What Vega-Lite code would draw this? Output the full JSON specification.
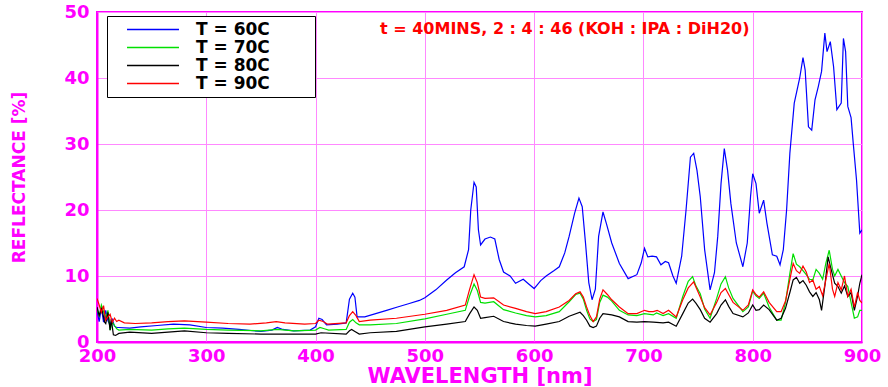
{
"$schema": "https://vega.github.io/schema/vega-lite/v6.json",
"width": 765, "height": 330,
"autosize": {"type": "none"},
"padding": {"left": 97, "top": 12, "right": 26, "bottom": 45},
"background": "white",
"config": {"view": {"stroke": "#ff00ff", "strokeWidth": 2}, "font": "DejaVu Sans"},
"datasets": {
"s60": [{"w":200,"r":4.8},{"w":202,"r":3.1},{"w":204,"r":5.2},{"w":206,"r":3.0},{"w":208,"r":4.8},{"w":210,"r":3.2},{"w":212,"r":2.6},{"w":214,"r":3.4},{"w":216,"r":2.4},{"w":218,"r":2.2},{"w":220,"r":2.2},{"w":230,"r":2.1},{"w":240,"r":2.3},{"w":255,"r":2.5},{"w":270,"r":2.7},{"w":285,"r":2.6},{"w":300,"r":2.2},{"w":315,"r":2.1},{"w":330,"r":1.9},{"w":350,"r":1.6},{"w":360,"r":1.8},{"w":365,"r":2.2},{"w":370,"r":1.9},{"w":380,"r":1.7},{"w":395,"r":1.8},{"w":400,"r":2.3},{"w":403,"r":3.6},{"w":406,"r":3.4},{"w":410,"r":2.6},{"w":420,"r":2.7},{"w":428,"r":2.9},{"w":431,"r":6.5},{"w":434,"r":7.4},{"w":436,"r":6.8},{"w":438,"r":3.8},{"w":445,"r":3.8},{"w":455,"r":4.3},{"w":465,"r":4.8},{"w":475,"r":5.3},{"w":485,"r":5.8},{"w":495,"r":6.3},{"w":500,"r":6.7},{"w":510,"r":7.9},{"w":520,"r":9.4},{"w":528,"r":10.5},{"w":536,"r":11.4},{"w":540,"r":14},{"w":542,"r":20},{"w":545,"r":24.2},{"w":547,"r":23.5},{"w":549,"r":17},{"w":551,"r":14.7},{"w":555,"r":15.6},{"w":560,"r":15.9},{"w":564,"r":15.6},{"w":568,"r":12.5},{"w":572,"r":10.6},{"w":578,"r":10.0},{"w":583,"r":8.9},{"w":590,"r":9.5},{"w":595,"r":8.8},{"w":600,"r":8.1},{"w":606,"r":9.3},{"w":611,"r":10},{"w":618,"r":10.8},{"w":623,"r":11.4},{"w":628,"r":13.5},{"w":632,"r":16},{"w":637,"r":19.5},{"w":641,"r":21.8},{"w":644,"r":20.5},{"w":647,"r":15},{"w":650,"r":9},{"w":653,"r":6.4},{"w":656,"r":8},{"w":659,"r":16},{"w":663,"r":19.7},{"w":666,"r":18},{"w":671,"r":15},{"w":678,"r":11.9},{"w":686,"r":9.6},{"w":694,"r":10.2},{"w":698,"r":12},{"w":701,"r":14.2},{"w":704,"r":12.9},{"w":708,"r":13},{"w":712,"r":12.9},{"w":716,"r":11.7},{"w":720,"r":12.2},{"w":723,"r":12},{"w":727,"r":10},{"w":730,"r":8.9},{"w":735,"r":13},{"w":739,"r":20},{"w":743,"r":28},{"w":746,"r":28.6},{"w":749,"r":26},{"w":752,"r":22},{"w":756,"r":14},{"w":761,"r":7.9},{"w":765,"r":10.5},{"w":768,"r":16},{"w":771,"r":24},{"w":774,"r":29.3},{"w":777,"r":26},{"w":780,"r":21},{"w":785,"r":15},{"w":791,"r":11.4},{"w":795,"r":15},{"w":798,"r":22},{"w":800,"r":25.5},{"w":803,"r":24},{"w":806,"r":19.5},{"w":810,"r":21.5},{"w":813,"r":18},{"w":818,"r":13.2},{"w":822,"r":13},{"w":825,"r":11.7},{"w":828,"r":14},{"w":831,"r":20},{"w":834,"r":28.6},{"w":838,"r":36.2},{"w":843,"r":40},{"w":846,"r":43.1},{"w":848,"r":41.2},{"w":851,"r":32.6},{"w":854,"r":32.1},{"w":857,"r":36.7},{"w":860,"r":38.7},{"w":863,"r":41},{"w":866,"r":46.8},{"w":868,"r":44},{"w":871,"r":45.5},{"w":874,"r":41.7},{"w":877,"r":35.2},{"w":881,"r":36.2},{"w":883,"r":46},{"w":885,"r":44},{"w":887,"r":35.7},{"w":890,"r":34},{"w":892,"r":30.1},{"w":895,"r":24.5},{"w":898,"r":16.5},{"w":900,"r":17}],
"s70": [{"w":200,"r":5.0},{"w":202,"r":4.0},{"w":204,"r":5.6},{"w":206,"r":4.6},{"w":208,"r":3.6},{"w":210,"r":4.8},{"w":212,"r":1.8},{"w":214,"r":3.0},{"w":216,"r":2.5},{"w":218,"r":2.0},{"w":220,"r":1.8},{"w":230,"r":1.9},{"w":250,"r":1.8},{"w":265,"r":2.0},{"w":280,"r":2.1},{"w":300,"r":1.9},{"w":320,"r":1.8},{"w":350,"r":1.7},{"w":365,"r":1.9},{"w":380,"r":1.7},{"w":400,"r":1.8},{"w":404,"r":2.2},{"w":408,"r":2.0},{"w":412,"r":1.8},{"w":428,"r":1.9},{"w":431,"r":3.0},{"w":434,"r":3.4},{"w":437,"r":2.9},{"w":440,"r":2.6},{"w":450,"r":2.6},{"w":474,"r":2.8},{"w":500,"r":3.5},{"w":520,"r":4.2},{"w":537,"r":4.8},{"w":541,"r":7},{"w":545,"r":8.8},{"w":548,"r":7.8},{"w":551,"r":6},{"w":555,"r":5.9},{"w":563,"r":6.1},{"w":572,"r":4.9},{"w":583,"r":4.4},{"w":593,"r":4.0},{"w":601,"r":3.8},{"w":611,"r":4.0},{"w":623,"r":4.6},{"w":632,"r":6.1},{"w":638,"r":7.2},{"w":642,"r":7.4},{"w":645,"r":6.5},{"w":648,"r":4.8},{"w":651,"r":3.5},{"w":654,"r":3.1},{"w":657,"r":3.4},{"w":660,"r":6},{"w":663,"r":7.1},{"w":667,"r":6.8},{"w":671,"r":6.2},{"w":678,"r":4.8},{"w":686,"r":4.1},{"w":694,"r":4.0},{"w":701,"r":4.3},{"w":709,"r":4.1},{"w":712,"r":4.4},{"w":718,"r":4.0},{"w":723,"r":4.3},{"w":730,"r":3.6},{"w":736,"r":6.9},{"w":741,"r":9.2},{"w":745,"r":9.9},{"w":748,"r":8.5},{"w":752,"r":7.3},{"w":756,"r":5},{"w":761,"r":3.6},{"w":767,"r":6.6},{"w":771,"r":8.8},{"w":775,"r":9.9},{"w":778,"r":8.2},{"w":782,"r":6.6},{"w":791,"r":4.6},{"w":796,"r":5.3},{"w":800,"r":7.7},{"w":803,"r":7.0},{"w":806,"r":6.6},{"w":810,"r":7.4},{"w":815,"r":5.3},{"w":822,"r":3.3},{"w":826,"r":3.3},{"w":830,"r":6.0},{"w":834,"r":10.4},{"w":837,"r":13.4},{"w":840,"r":11.8},{"w":843,"r":11.4},{"w":846,"r":10.8},{"w":849,"r":10.2},{"w":852,"r":9.5},{"w":855,"r":9.4},{"w":858,"r":11.0},{"w":861,"r":10.4},{"w":864,"r":9.5},{"w":867,"r":12.0},{"w":870,"r":13.9},{"w":873,"r":11.0},{"w":875,"r":10.0},{"w":878,"r":11.0},{"w":881,"r":10.0},{"w":884,"r":9.0},{"w":887,"r":8.4},{"w":890,"r":6.0},{"w":893,"r":3.6},{"w":896,"r":3.8},{"w":898,"r":4.8},{"w":900,"r":4.8}],
"s80": [{"w":200,"r":5.3},{"w":202,"r":4.0},{"w":204,"r":5.0},{"w":205,"r":4.6},{"w":207,"r":3.0},{"w":208,"r":2.8},{"w":210,"r":4.5},{"w":212,"r":1.8},{"w":213,"r":3.5},{"w":215,"r":1.1},{"w":217,"r":1.0},{"w":220,"r":1.3},{"w":230,"r":1.5},{"w":250,"r":1.3},{"w":265,"r":1.5},{"w":280,"r":1.7},{"w":300,"r":1.4},{"w":320,"r":1.3},{"w":350,"r":1.2},{"w":380,"r":1.2},{"w":400,"r":1.2},{"w":405,"r":1.4},{"w":428,"r":1.2},{"w":431,"r":1.7},{"w":433,"r":1.9},{"w":436,"r":1.6},{"w":440,"r":1.2},{"w":450,"r":1.4},{"w":474,"r":1.6},{"w":500,"r":2.3},{"w":520,"r":2.7},{"w":537,"r":3.1},{"w":541,"r":4.3},{"w":545,"r":5.3},{"w":548,"r":4.8},{"w":551,"r":3.6},{"w":555,"r":3.7},{"w":563,"r":3.9},{"w":572,"r":3.1},{"w":583,"r":2.7},{"w":593,"r":2.5},{"w":601,"r":2.4},{"w":611,"r":2.7},{"w":623,"r":3.1},{"w":632,"r":3.9},{"w":642,"r":4.5},{"w":645,"r":4},{"w":648,"r":3.3},{"w":651,"r":2.4},{"w":654,"r":2.2},{"w":657,"r":2.4},{"w":660,"r":3.6},{"w":663,"r":4.3},{"w":671,"r":4.1},{"w":678,"r":3.8},{"w":686,"r":3.1},{"w":694,"r":3.0},{"w":701,"r":3.1},{"w":709,"r":3.0},{"w":718,"r":2.9},{"w":723,"r":3.0},{"w":730,"r":2.4},{"w":736,"r":4.3},{"w":741,"r":5.9},{"w":745,"r":6.5},{"w":748,"r":5.9},{"w":752,"r":4.9},{"w":756,"r":3.6},{"w":761,"r":3.0},{"w":767,"r":4.3},{"w":771,"r":5.6},{"w":775,"r":6.4},{"w":778,"r":5.4},{"w":782,"r":4.3},{"w":791,"r":3.8},{"w":796,"r":4.4},{"w":800,"r":5.6},{"w":803,"r":4.8},{"w":806,"r":4.9},{"w":810,"r":5.6},{"w":815,"r":4.9},{"w":822,"r":3.3},{"w":826,"r":3.6},{"w":830,"r":5.1},{"w":834,"r":7.5},{"w":837,"r":9.4},{"w":840,"r":9.8},{"w":843,"r":8.9},{"w":846,"r":9.3},{"w":849,"r":8.6},{"w":852,"r":7.6},{"w":855,"r":6.9},{"w":858,"r":7.5},{"w":861,"r":6.4},{"w":863,"r":4.8},{"w":866,"r":8.5},{"w":869,"r":12.9},{"w":871,"r":11.5},{"w":873,"r":10.2},{"w":875,"r":8.9},{"w":878,"r":8.4},{"w":881,"r":7.4},{"w":884,"r":8.5},{"w":887,"r":6.9},{"w":890,"r":7.5},{"w":893,"r":4.8},{"w":896,"r":7.0},{"w":898,"r":8.9},{"w":900,"r":10.2}],
"s90": [{"w":200,"r":6.6},{"w":202,"r":5.6},{"w":204,"r":4.5},{"w":206,"r":5.5},{"w":208,"r":3.3},{"w":210,"r":3.8},{"w":212,"r":4.2},{"w":214,"r":3.0},{"w":216,"r":3.6},{"w":218,"r":3.1},{"w":220,"r":3.3},{"w":225,"r":2.9},{"w":235,"r":2.8},{"w":250,"r":2.9},{"w":265,"r":3.1},{"w":280,"r":3.2},{"w":300,"r":3.0},{"w":320,"r":2.8},{"w":340,"r":2.7},{"w":355,"r":2.9},{"w":364,"r":3.1},{"w":372,"r":2.9},{"w":390,"r":2.7},{"w":400,"r":2.8},{"w":403,"r":3.3},{"w":407,"r":3.1},{"w":411,"r":2.7},{"w":428,"r":2.9},{"w":431,"r":4.0},{"w":434,"r":4.6},{"w":437,"r":4.0},{"w":440,"r":3.1},{"w":450,"r":3.3},{"w":474,"r":3.6},{"w":500,"r":4.2},{"w":520,"r":4.8},{"w":537,"r":5.6},{"w":541,"r":8},{"w":545,"r":10.2},{"w":548,"r":9},{"w":551,"r":6.8},{"w":555,"r":6.6},{"w":563,"r":6.7},{"w":572,"r":5.6},{"w":583,"r":5.1},{"w":593,"r":4.6},{"w":601,"r":4.3},{"w":611,"r":4.6},{"w":623,"r":5.3},{"w":632,"r":6.3},{"w":638,"r":7.3},{"w":642,"r":7.6},{"w":645,"r":6.8},{"w":648,"r":5.3},{"w":651,"r":4},{"w":654,"r":3.1},{"w":657,"r":3.8},{"w":660,"r":6.5},{"w":663,"r":7.9},{"w":667,"r":7.2},{"w":671,"r":6.4},{"w":678,"r":5.3},{"w":686,"r":4.3},{"w":694,"r":4.3},{"w":701,"r":4.8},{"w":705,"r":4.6},{"w":709,"r":4.6},{"w":712.6,"r":4.8},{"w":718,"r":4.3},{"w":723,"r":4.8},{"w":730,"r":3.8},{"w":736,"r":6.4},{"w":741,"r":8.2},{"w":746,"r":9.1},{"w":752,"r":6.8},{"w":756,"r":5.2},{"w":761,"r":4.1},{"w":767,"r":6.0},{"w":771,"r":7.5},{"w":775,"r":8.1},{"w":778,"r":7.2},{"w":782,"r":6.0},{"w":791,"r":4.8},{"w":796,"r":5.6},{"w":800,"r":7.9},{"w":803,"r":7.2},{"w":806,"r":6.8},{"w":810,"r":7.6},{"w":815,"r":6.0},{"w":822,"r":4.6},{"w":826,"r":4.6},{"w":830,"r":6.2},{"w":834,"r":9.5},{"w":837,"r":11.9},{"w":840,"r":10.8},{"w":843,"r":10.4},{"w":846,"r":11.5},{"w":849,"r":10.6},{"w":852,"r":9.0},{"w":855,"r":9.4},{"w":858,"r":8.0},{"w":861,"r":8.4},{"w":864,"r":7.0},{"w":867,"r":9.5},{"w":870,"r":11.9},{"w":873,"r":8.0},{"w":875,"r":6.9},{"w":878,"r":9.0},{"w":881,"r":7.9},{"w":884,"r":10.0},{"w":887,"r":6.9},{"w":890,"r":8.0},{"w":893,"r":5.3},{"w":896,"r":7.5},{"w":898,"r":6.3},{"w":900,"r":5.9}],
"note": [{"w": 628, "r": 47.4, "label": "t = 40MINS, 2 : 4 : 46 (KOH : IPA : DiH20)"}]
},
"layer": [
{
"data": {"name": "s60"},
"mark": {"type": "line", "strokeWidth": 1.2, "clip": true},
"encoding": {
"x": {"field": "w", "type": "quantitative", "scale": {"domain": [200, 900], "nice": false, "zero": false},
"axis": {"title": "WAVELENGTH [nm]", "values": [200,300,400,500,600,700,800,900], "grid": true, "gridColor": "#ff88ff", "gridWidth": 1, "domainColor": "#ff00ff", "domainWidth": 2, "ticks": false, "labelFont": "DejaVu Sans", "labelFontWeight": "bold", "labelFontSize": 18, "labelColor": "#ff00ff", "labelPadding": 5, "labelFlush": false, "titleFont": "DejaVu Sans", "titleFontWeight": "bold", "titleFontSize": 21, "titleColor": "#ff00ff", "titlePadding": 0}},
"y": {"field": "r", "type": "quantitative", "scale": {"domain": [0, 50], "nice": false},
"axis": {"title": "REFLECTANCE [%]", "values": [0,10,20,30,40,50], "grid": true, "gridColor": "#ff88ff", "gridWidth": 1, "domainColor": "#ff00ff", "domainWidth": 2, "ticks": false, "labelFont": "DejaVu Sans", "labelFontWeight": "bold", "labelFontSize": 18, "labelColor": "#ff00ff", "labelPadding": 8, "labelFlush": false, "titleFont": "DejaVu Sans", "titleFontWeight": "bold", "titleFontSize": 17, "titleColor": "#ff00ff", "titlePadding": 35}},
"color": {"datum": "T = 60C", "type": "nominal",
"scale": {"domain": ["T = 60C", "T = 70C", "T = 80C", "T = 90C"], "range": ["#0000ff", "#00e000", "#000000", "#ff0000"]},
"legend": {"orient": "none", "legendX": 10, "legendY": 4, "title": null, "strokeColor": "#000000", "fillColor": "#ffffff", "padding": 5, "symbolType": "stroke", "symbolSize": 2700, "symbolStrokeWidth": 1.5, "symbolOffset": 14, "labelOffset": 16, "labelFont": "DejaVu Sans", "labelFontWeight": "bold", "labelFontSize": 17, "labelColor": "#000000", "clipHeight": 17, "rowPadding": 0, "labelExpr": "datum.label + '\u2800\u2800\u2800'"}}
}
},
{
"data": {"name": "s70"},
"mark": {"type": "line", "strokeWidth": 1.2, "clip": true},
"encoding": {"x": {"field": "w", "type": "quantitative"}, "y": {"field": "r", "type": "quantitative"}, "color": {"datum": "T = 70C", "type": "nominal"}}
},
{
"data": {"name": "s80"},
"mark": {"type": "line", "strokeWidth": 1.2, "clip": true},
"encoding": {"x": {"field": "w", "type": "quantitative"}, "y": {"field": "r", "type": "quantitative"}, "color": {"datum": "T = 80C", "type": "nominal"}}
},
{
"data": {"name": "s90"},
"mark": {"type": "line", "strokeWidth": 1.2, "clip": true},
"encoding": {"x": {"field": "w", "type": "quantitative"}, "y": {"field": "r", "type": "quantitative"}, "color": {"datum": "T = 90C", "type": "nominal"}}
},
{
"data": {"name": "note"},
"mark": {"type": "text", "font": "DejaVu Sans", "fontWeight": "bold", "fontSize": 16, "color": "#ff0000", "baseline": "middle", "align": "center"},
"encoding": {"x": {"field": "w", "type": "quantitative"}, "y": {"field": "r", "type": "quantitative"}, "text": {"field": "label"}}
}
]
}
